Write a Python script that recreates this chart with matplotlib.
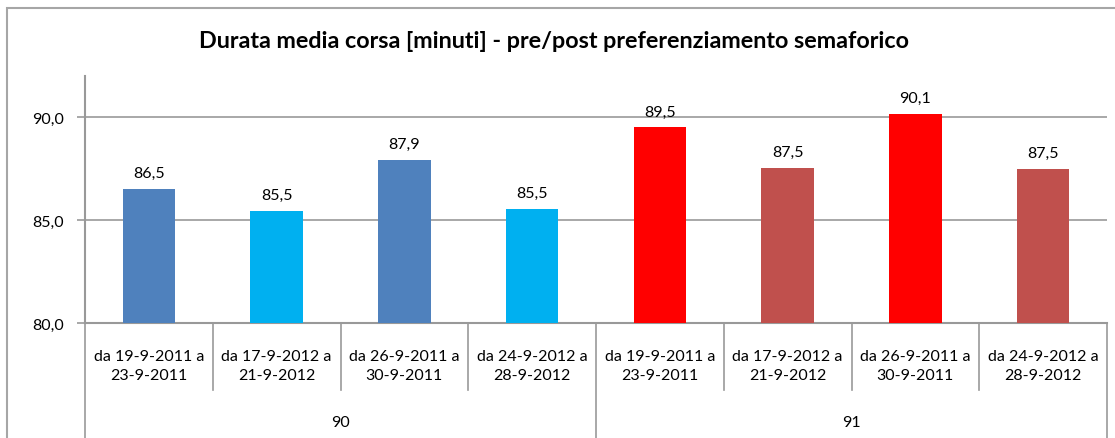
import matplotlib
matplotlib.use("Agg")
import matplotlib.pyplot as plt
from matplotlib.patches import Rectangle
import matplotlib.transforms as mtransforms

plt.rcParams['font.family'] = ['Lato', 'DejaVu Sans']

# data
periods = ["da 19-9-2011 a\n23-9-2011", "da 17-9-2012 a\n21-9-2012",
           "da 26-9-2011 a\n30-9-2011", "da 24-9-2012 a\n28-9-2012"]
groups = ["90", "91"]
durata = [86.5, 85.46, 87.94, 85.54, 89.5, 87.54, 90.14, 87.5]
colors = ["#4F81BD", "#00B0F0", "#4F81BD", "#00B0F0",
          "#FF0000", "#C0504D", "#FF0000", "#C0504D"]

labels = periods * len(groups)
x = list(range(len(durata)))
grid_col = "#999999"
fs = 11.5

fig = plt.figure(figsize=(11.15, 4.39), dpi=100)
ax = fig.add_axes([85 / 1115, 1 - 324 / 439, (1107 - 85) / 1115, (324 - 77) / 439])

ax.bar(x, [v - 80 for v in durata], bottom=80, width=0.41, color=colors, zorder=3)
for xi, v in zip(x, durata):
    ax.annotate(f"{v:.1f}".replace(".", ","), (xi, v), xytext=(0, 11.5),
                textcoords="offset points", ha="center", va="center", fontsize=fs)

ax.set_xlim(-0.5, len(durata) - 0.5)
ax.set_ylim(80, 92)
ax.set_yticks([80, 85, 90])
ax.set_yticklabels(["80,0", "85,0", "90,0"], fontsize=fs)
ax.yaxis.grid(True, color=grid_col, linewidth=1.2, zorder=0)
ax.tick_params(axis="y", length=6, width=1.2, color=grid_col, pad=9)
ax.set_xticks([])
for s in ["top", "right"]:
    ax.spines[s].set_visible(False)
for s in ["left", "bottom"]:
    ax.spines[s].set_color(grid_col)
    ax.spines[s].set_linewidth(1.5)
ax.spines["left"].set_bounds(80, 92)

# two-level category axis
trans = mtransforms.blended_transform_factory(ax.transData, ax.transAxes)
for i in range(len(durata) + 1):
    bottom = -0.47 if i % len(periods) == 0 else -0.271
    ax.plot([i - 0.5, i - 0.5], [0, bottom], color=grid_col, lw=1.2,
            transform=trans, clip_on=False)
for xi, lab in zip(x, labels):
    ax.text(xi, -0.172, lab, transform=trans, ha="center", va="center",
            fontsize=fs, linespacing=1.45)
for g, name in enumerate(groups):
    mid = g * len(periods) + (len(periods) - 1) / 2
    ax.text(mid, -0.40, name, transform=trans, ha="center", va="center", fontsize=fs)

fig.text(0.497, 1 - 42 / 439, "Durata media corsa [minuti] - pre/post preferenziamento semaforico",
         ha="center", va="center", fontsize=16.8, fontweight="bold")

# chart border (cropped on right and bottom)
fig.patches.append(Rectangle((7 / 1115, -0.1), 1.2, 1 - 9 / 439 + 0.1,
                             transform=fig.transFigure, fill=False,
                             edgecolor="#A6A6A6", linewidth=1.5))

fig.savefig("out.png", dpi=100)
